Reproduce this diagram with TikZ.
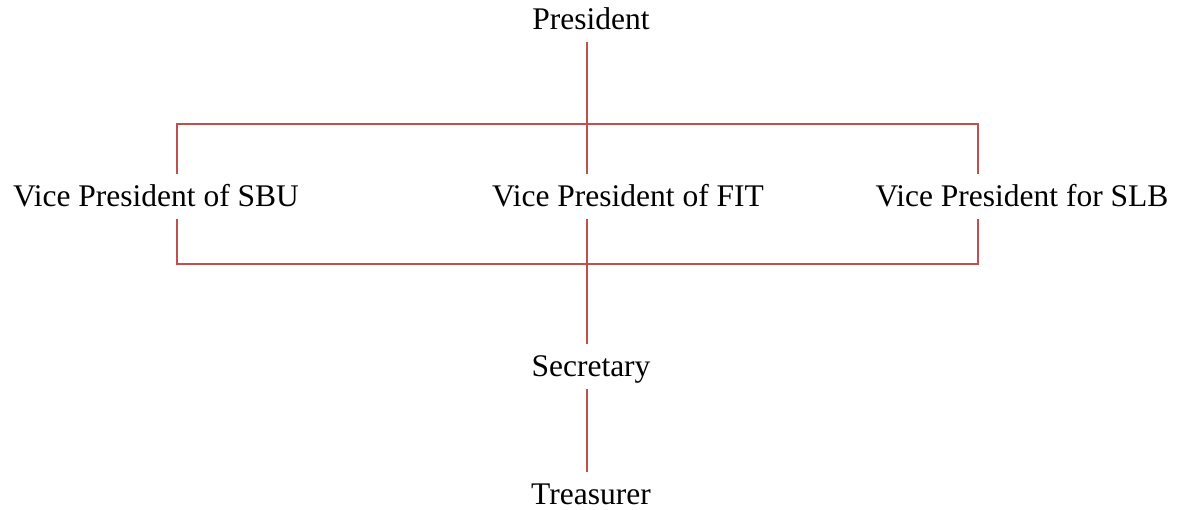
\documentclass[tikz,border=0pt]{standalone}
\usepackage{fontspec}
\setmainfont{Liberation Serif}
\definecolor{linkred}{HTML}{C0504D}
\tikzset{
  post/.style={font=\fontsize{31.5}{38}\selectfont, text height=21pt, text depth=0pt,
               inner xsep=0pt, inner ysep=12pt, anchor=base},
  link/.style={draw=linkred, line width=1.8pt}
}

\begin{document}
\begin{tikzpicture}[x=1pt,y=1pt]
  \useasboundingbox (0,0) rectangle (1178,510);
  \node[post] (pres) at ( 591,480) {President};
  \node[post] (sbu)  at ( 156,303) {Vice President of SBU};
  \node[post] (fit)  at ( 628,303) {Vice President of FIT};
  \node[post] (slb)  at (1022,303) {Vice President for SLB};
  \node[post] (sec)  at ( 591,133) {Secretary};
  \node[post] (tre)  at ( 591,  5) {Treasurer};
  \coordinate (spine) at (587,  0);
  \coordinate (tl) at (177,386);
  \coordinate (tr) at (978,386);
  \coordinate (bl) at (177,246);
  \coordinate (br) at (978,246);
  \draw[link] (pres.south -| spine) -- (fit.north -| spine);
  \draw[link] (fit.south -| spine) -- (sec.north -| spine);
  \draw[link] (sec.south -| spine) -- (tre.north -| spine);
  \draw[link] (tl |- sbu.north) -- (tl) -- (tr) -- (tr |- slb.north);
  \draw[link] (tl |- sbu.south) -- (bl) -- (br) -- (tr |- slb.south);
\end{tikzpicture}
\end{document}
